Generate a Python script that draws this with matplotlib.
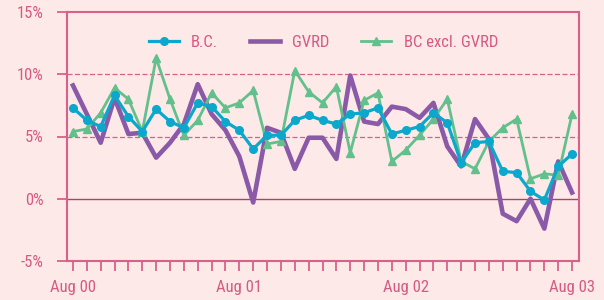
import numpy as np
import matplotlib.pyplot as plt
from matplotlib import font_manager

# monthly, Aug 00 .. Aug 03
months = list(range(37))
tick_labels = {0: "Aug 00", 12: "Aug 01", 24: "Aug 02", 36: "Aug 03"}

bc = [7.3, 6.3, 5.8, 8.3, 6.6, 5.4, 7.2, 6.2, 5.7, 7.7, 7.4, 6.2, 5.5, 4.0, 5.1, 5.1,
      6.3, 6.7, 6.3, 6.0, 6.8, 6.9, 7.3, 5.2, 5.5, 5.8, 6.9, 6.1, 2.9, 4.5, 4.6, 2.2,
      2.1, 0.6, -0.1, 2.6, 3.6]
gvrd = [9.1, 6.8, 4.5, 8.1, 5.2, 5.3, 3.3, 4.5, 6.0, 9.2, 6.8, 5.5, 3.4, -0.3, 5.7, 5.3,
        2.4, 4.9, 4.9, 3.2, 9.9, 6.2, 6.0, 7.4, 7.2, 6.5, 7.7, 4.2, 2.6, 6.4, 4.8, -1.2,
        -1.8, 0.0, -2.4, 3.0, 0.5]
bc_excl = [5.4, 5.6, 6.9, 8.9, 8.0, 5.4, 11.3, 8.0, 5.1, 6.3, 8.5, 7.3, 7.7, 8.7, 4.4, 4.6,
           10.3, 8.6, 7.7, 9.0, 3.7, 7.9, 8.5, 3.0, 3.9, 5.1, 6.4, 8.0, 3.0, 2.4, 4.6, 5.7,
           6.4, 1.6, 2.0, 1.9, 6.8]

bg = "#fde9e8"
pink = "#d9608a"
txt = "#d65a82"

# condensed face if there is one
names = {f.name for f in font_manager.fontManager.ttflist}
fam = 'DejaVu Sans'
fsize = 11
for cand, sz in [('Liberation Sans Narrow', 12), ('DejaVu Sans Condensed', 11.8),
                 ('Roboto Condensed', 12), ('Liberation Sans', 11)]:
    if cand in names:
        fam, fsize = cand, sz
        break
plt.rcParams['font.family'] = [fam, 'DejaVu Sans']

fig = plt.figure(figsize=(6.04, 3.0), dpi=100, facecolor=bg)
ax = fig.add_axes([67/604, 1-261/300, 512/604, 249/300])
ax.set_facecolor(bg)

ax.axhline(10, color=pink, lw=0.9, ls=(0, (4, 2)), zorder=1)
ax.axhline(5, color=pink, lw=0.9, ls=(0, (4, 2)), zorder=1)
ax.axhline(0, color="#a8456a", lw=1.0, zorder=1)

ax.plot(months, bc, color="#0aa8cc", lw=2.3, marker='o', ms=5.5, label="B.C.", zorder=4)
ax.plot(months, gvrd, color="#8a5aa8", lw=3.3, label="GVRD", zorder=3)
ax.plot(months, bc_excl, color="#62c08c", lw=2.0, marker='^', ms=6, label="BC excl. GVRD", zorder=3)

ax.set_xlim(-0.43, 36.5)
ax.set_ylim(-5, 15)
ax.set_yticks([-5, 0, 5, 10, 15])
ax.set_yticklabels(["-5%", "0%", "5%", "10%", "15%"])
ax.set_xticks(months)
ax.set_xticklabels([tick_labels.get(m, "") for m in months])

for s in ax.spines.values():
    s.set_color(pink)
    s.set_linewidth(1.5)
ax.tick_params(axis='both', colors=pink, labelcolor=txt, labelsize=fsize, length=7, width=1.3, direction='out')
ax.tick_params(axis='y', pad=10)
ax.tick_params(axis='x', pad=7)

leg = ax.legend(ncol=3, loc='center', bbox_to_anchor=(0.501, 0.878), frameon=False,
                handlelength=1.8, handletextpad=0.75, columnspacing=1.9, fontsize=fsize)
for t in leg.get_texts():
    t.set_color(txt)

fig.savefig("out.png", dpi=100, facecolor=bg)
